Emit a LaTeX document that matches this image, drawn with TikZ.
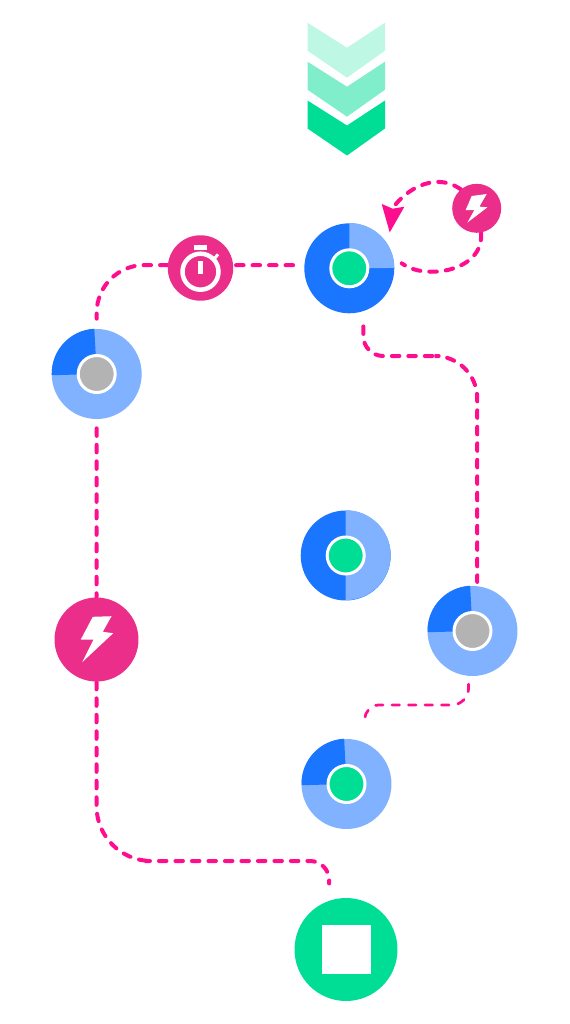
\documentclass[tikz,border=0pt]{standalone}
\usepackage{xcolor}
\usetikzlibrary{arrows.meta, backgrounds}
\definecolor{FlowPink}{HTML}{FF0D8F}
\definecolor{BadgePink}{HTML}{EA2E8A}
\definecolor{RingBlue}{HTML}{1A75FF}
\definecolor{RingPale}{HTML}{80B2FF}
\definecolor{MintGreen}{HTML}{00DE96}
\definecolor{CoreGrey}{HTML}{B3B3B3}
\tikzset{
    % Node styles
    ringdark/.style={
        circle,
        fill=RingBlue,
        inner sep=0pt,
        minimum size=1.8cm
    },
    ringpale/.style={
        circle,
        fill=RingPale,
        inner sep=0pt,
        minimum size=1.8cm
    },
    coremint/.style={
        circle,
        draw=white,
        line width=0.06cm,
        fill=MintGreen,
        inner sep=0pt,
        minimum size=0.74cm
    },
    coregrey/.style={
        circle,
        draw=white,
        line width=0.06cm,
        fill=CoreGrey,
        inner sep=0pt,
        minimum size=0.74cm
    },
    badge/.style={
        circle,
        fill=BadgePink,
        inner sep=0pt
    },
    % Arrow styles
    flowline/.style={
        draw=FlowPink,
        line width=0.08cm,
        line cap=round,
        dash pattern=on 0.15cm off 0.18cm
    },
    thinflow/.style={
        flowline,
        line width=0.055cm
    },
    looptip/.style={
        -{Stealth[length=0.54cm,width=0.44cm,inset=0.06cm,fill=FlowPink]}
    }
}
\begin{document}
\begin{tikzpicture}[x=0.02cm,y=-0.02cm]
    \useasboundingbox (0,0) rectangle (569,1024);

    % Chevrons
    \foreach \chevtop/\chevtint in {22.7/25,61.7/50,100.5/100}
        \fill[MintGreen!\chevtint] (307.5,\chevtop) -- (347,\chevtop+25) -- (385,\chevtop) -- (385,\chevtop+28) -- (347,\chevtop+55) -- (307.5,\chevtop+28) -- cycle;

    % Rings
    \node[ringdark] (ringTop) at (349.3,268.3) {};
    \node[ringpale] (ringLeft) at (96.7,374) {};
    \node[ringdark] (ringMid) at (345.7,555.5) {};
    \node[ringpale] (ringRight) at (472.5,631) {};
    \node[ringpale] (ringLow) at (346.5,784) {};

    % Ring sectors
    \fill[RingPale] (ringTop.center) -- (ringTop.90) arc[start angle=90,end angle=0,radius=0.9cm] -- cycle;
    \fill[RingBlue] (ringLeft.center) -- (ringLeft.93) arc[start angle=93,end angle=182,radius=0.9cm] -- cycle;
    \fill[RingPale] (ringMid.center) -- (ringMid.90) arc[start angle=90,end angle=-90,radius=0.9cm] -- cycle;
    \fill[RingBlue] (ringRight.center) -- (ringRight.93) arc[start angle=93,end angle=182,radius=0.9cm] -- cycle;
    \fill[RingBlue] (ringLow.center) -- (ringLow.93) arc[start angle=93,end angle=182,radius=0.9cm] -- cycle;

    % Ring cores
    \node[coremint] (coreTop) at (ringTop) {};
    \node[coregrey] (coreLeft) at (ringLeft) {};
    \node[coremint] (coreMid) at (ringMid) {};
    \node[coregrey] (coreRight) at (ringRight) {};
    \node[coremint] (coreLow) at (ringLow) {};

    % Badges
    \node[badge,minimum size=1.31cm] (timer) at (200.5,268) {};
    \node[badge,minimum size=1.68cm] (boltBig) at (96.5,639.5) {};
    \node[badge,minimum size=0.98cm] (boltSmall) at (476.7,208.3) {};

    % Stop
    \node[circle,fill=MintGreen,inner sep=0pt,minimum size=2.06cm] (stop) at (346,949.5) {};
    \node[rectangle,fill=white,inner sep=0pt,minimum size=0.98cm] (stopSquare) at (stop) {};

    % Bolt icons
    \fill[white,shift={(96.5,639.5)}] (-3.7,-22.7) -- (15,-23.3) -- (6.3,-7.7) -- (16.7,-6.3) -- (-14.3,22.7) -- (-3,0) -- (-15.7,0) -- cycle;
    \fill[white,shift={(476.7,208.3)}] (-5,-12.3) -- (10,-14.3) -- (2.7,-1.7) -- (10.7,-1) -- (-9.3,14.3) -- (-2.3,1.7) -- (-11,1.7) -- cycle;

    % Stopwatch icon
    \draw[white,line width=0.09cm] (200.5,271.7) circle[radius=0.36cm];
    \fill[white] (198.3,260.7) rectangle (203,274);
    \fill[white] (193.7,245) rectangle (206.7,250);
    \draw[white,line width=0.06cm] (214.7,258.3) -- (218,254.3);

    % Connectors
    \begin{scope}[on background layer]
        \draw[flowline,shorten <=0.22cm] (ringTop.176) -- (timer.5);
        \draw[flowline,rounded corners=0.95cm,shorten >=0.2cm] (timer.175) -| (ringLeft.north);
        \draw[flowline,shorten <=0.18cm] (ringLeft.south) -- (boltBig.north);
        \draw[flowline,rounded corners=1.1cm,shorten >=0.34cm] (boltBig.south) |- (200,861) [rounded corners=0.38cm] -| (stop.109);
        \draw[flowline,rounded corners=0.4cm,shorten <=0.3cm,shorten >=0.08cm] (ringTop.-72) |- (420,356) [rounded corners=0.85cm] -| (ringRight.84);
        \draw[thinflow,rounded corners=0.34cm,shorten <=0.16cm,shorten >=0.36cm] (ringRight.-95) |- (420,705) [rounded corners=0.28cm] -| (ringLow.66);
        \draw[flowline,looptip,shorten >=0.25cm] (boltSmall.130) to[out=146,in=83,looseness=1.15] (ringTop.31);
        \draw[flowline,shorten >=0.22cm] (boltSmall.-80) to[out=-85,in=-38,looseness=1.1] (ringTop.15);
    \end{scope}
\end{tikzpicture}
\end{document}
